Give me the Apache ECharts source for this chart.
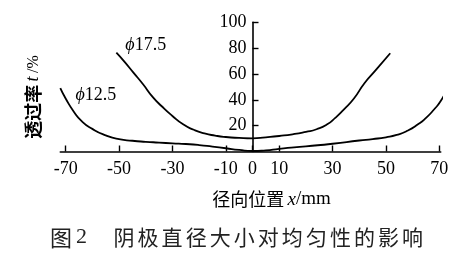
<!DOCTYPE html>
<html><head><meta charset="utf-8">
<script src="https://cdn.jsdelivr.net/npm/echarts@6/dist/echarts.min.js"></script>
<style>html,body{margin:0;padding:0;background:#fff}#c{width:476px;height:265px}</style>
</head><body><div id="c"></div>
<script>
// data
const xs175 = [-51, -48, -44.6, -41, -37.5, -34, -30, -26, -22, -18, -14, -10, -5, 0, 5, 10, 15, 20, 24, 28, 31, 34, 38, 42, 46, 51.6];
const ys175 = [76.4, 69.5, 61, 52, 42.5, 35, 27.5, 21, 16.8, 14, 12.3, 11.2, 10.5, 10.2, 11, 12, 13.3, 15.2, 17.2, 21, 26, 32, 41, 53, 62.5, 76];
const xs125 = [-72, -70, -67, -64, -60, -55, -50, -45, -40, -35, -30, -25, -20, -15, -10, -5, 0, 5, 10, 20, 30, 40, 45, 50, 54, 58, 62, 65, 68, 70.5, 72.8];
const ys125 = [49, 41, 31, 23.5, 17.5, 12.5, 9.5, 8.3, 7.5, 6.9, 6.3, 5.8, 5, 3.8, 2.5, 1.2, 0.4, 0.8, 2, 4, 6, 8.5, 9.6, 11, 12.8, 16, 21, 26, 32.5, 39, 48];
const xTickLabels = [-70, -50, -30, -10, 0, 10, 30, 50, 70];
const yTickLabels = [20, 40, 60, 80, 100];
const seriesNames = ['ϕ17.5', 'ϕ12.5'];
const labelAt175 = [-40, 82.4];
const labelAt125 = [-58.7, 43.7];
const captionPrefix = ['图', '2'];
const captionChars = ['阴','极','直','径','大','小','对','均','匀','性','的','影','响'];
const xName = ['径向位置', 'x', '/mm'];
const yName = ['透过率', 't', '/%'];

const serif = 'Liberation Serif';
const cjk = 'Noto Sans CJK SC';
const chart = echarts.init(document.getElementById('c'));

const X_MIN = -72, X_MAX = 70.5;
const GRID = {left:60.3, right:35.3, top:22.2, bottom:113.5};
const plotW = 476 - GRID.left - GRID.right;
const yAxisOffset = -((0 - X_MIN) / (X_MAX - X_MIN)) * plotW; // move y axis onto x = 0

function pairs(xs, ys){ return xs.map((x,i)=>[x, ys[i]]); }
const richPhi = {i:{fontFamily:serif,fontStyle:'italic',fontSize:18,color:'#000'}, n:{fontFamily:serif,fontSize:18,color:'#000'}};
function phiLabel(name){ return '{i|' + name.charAt(0) + '}{n|' + name.slice(1) + '}'; }

const graphics = [];
graphics.push({type:'text', x:33.5, y:97, rotation:Math.PI/2,
  style:{text:'{a|'+yName[0]+'} {b|'+yName[1]+'} {c|'+yName[2]+'}', align:'center', verticalAlign:'middle',
    rich:{a:{fontFamily:cjk,fontSize:18,fontWeight:'bold',color:'#000'}, b:{fontFamily:serif,fontStyle:'italic',fontSize:18,color:'#000'}, c:{fontFamily:serif,fontSize:16,color:'#000'}}}});
graphics.push({type:'text', x:271.5, y:199.5,
  style:{text:'{a|'+xName[0]+'} {b|'+xName[1]+'}{c|'+xName[2]+'}', align:'center', verticalAlign:'middle',
    rich:{a:{fontFamily:cjk,fontSize:18,color:'#000'}, b:{fontFamily:serif,fontStyle:'italic',fontSize:19,color:'#000'}, c:{fontFamily:serif,fontSize:19,color:'#000'}}}});
graphics.push({type:'text', x:61, y:237.5, style:{text:captionPrefix[0], font:'22px "'+cjk+'"', fill:'#222', align:'center', verticalAlign:'middle'}});
graphics.push({type:'text', x:81.5, y:237.5, style:{text:captionPrefix[1], font:'22px "'+serif+'"', fill:'#222', align:'center', verticalAlign:'middle'}});
captionChars.forEach((ch,i)=>{
  graphics.push({type:'text', x:124 + i*24.05, y:237.5, style:{text:ch, font:'21px "'+cjk+'"', fill:'#222', align:'center', verticalAlign:'middle'}});
});

function markLabel(name, at){
  return {symbol:'circle', symbolSize:0, silent:true, animation:false,
    data:[{coord:at, label:{show:true, position:'inside', formatter:phiLabel(name), rich:richPhi}}]};
}

chart.setOption({
  animation:false,
  backgroundColor:'#fff',
  grid:GRID,
  xAxis:{type:'value', min:X_MIN, max:X_MAX,
    axisLine:{onZero:false, lineStyle:{color:'#000', width:1.6}},
    axisTick:{show:true, inside:true, length:6, lineStyle:{color:'#000', width:1.4}, customValues:xTickLabels},
    axisLabel:{customValues:xTickLabels, fontFamily:serif, fontSize:18, color:'#000', margin:9},
    splitLine:{show:false}},
  yAxis:{type:'value', min:0, max:100, interval:20, position:'left', offset:yAxisOffset,
    axisLine:{show:true, onZero:false, lineStyle:{color:'#000', width:1.6}},
    axisTick:{show:true, inside:true, length:6, lineStyle:{color:'#000', width:1.4}, customValues:yTickLabels},
    axisLabel:{customValues:yTickLabels, fontFamily:serif, fontSize:18, color:'#000', margin:6},
    splitLine:{show:false}},
  series:[
    {name:seriesNames[0], type:'line', data:pairs(xs175, ys175), smooth:0.6, showSymbol:false, clip:false,
     lineStyle:{color:'#000', width:1.8}, markPoint:markLabel(seriesNames[0], labelAt175)},
    {name:seriesNames[1], type:'line', data:pairs(xs125, ys125), smooth:0.6, showSymbol:false, clip:false,
     lineStyle:{color:'#000', width:1.8}, markPoint:markLabel(seriesNames[1], labelAt125)}
  ],
  graphic:graphics
});
</script></body></html>
